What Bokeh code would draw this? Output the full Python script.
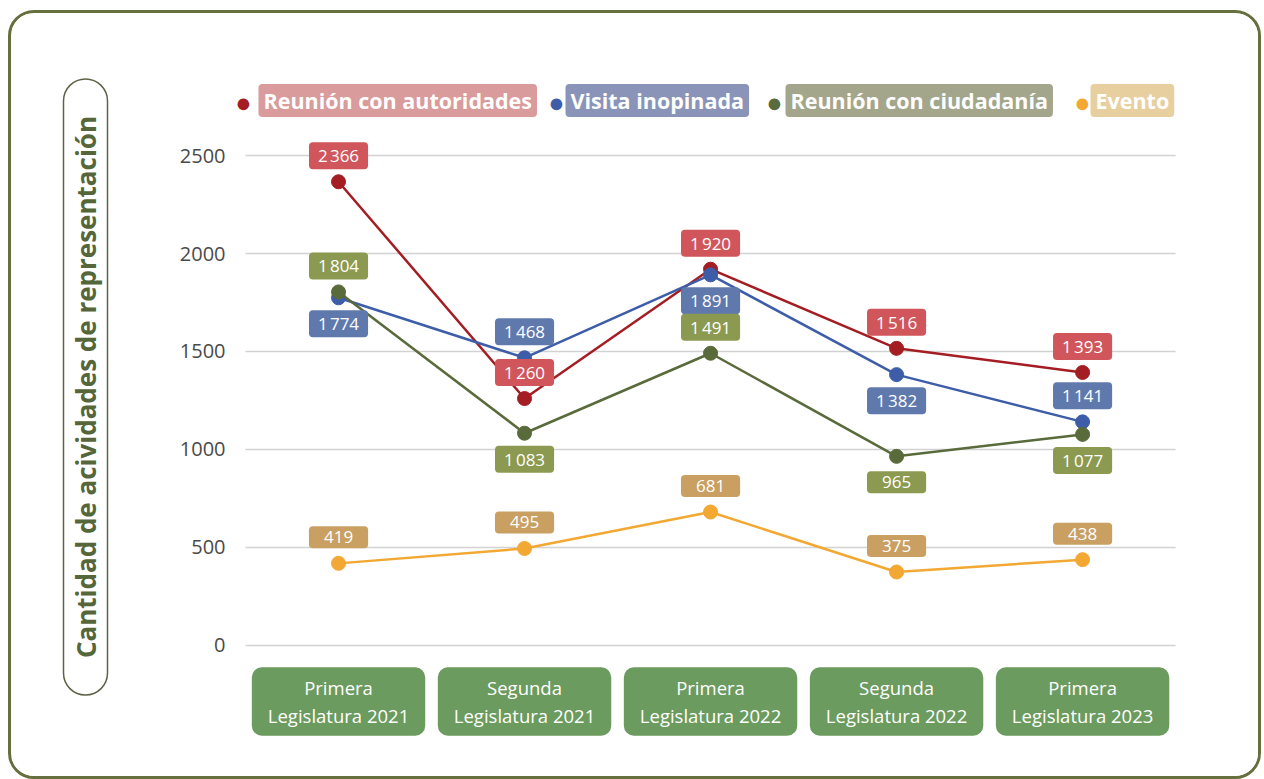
from bokeh.plotting import figure
from bokeh.models import Range1d, FixedTicker, Label
from bokeh.core.properties import value
from bokeh.embed import file_html
from bokeh.resources import INLINE

# ---------------- data ----------------
categories = [
    "Primera Legislatura 2021",
    "Segunda Legislatura 2021",
    "Primera Legislatura 2022",
    "Segunda Legislatura 2022",
    "Primera Legislatura 2023",
]
category_labels = [
    "Primera\nLegislatura 2021",
    "Segunda\nLegislatura 2021",
    "Primera\nLegislatura 2022",
    "Segunda\nLegislatura 2022",
    "Primera\nLegislatura 2023",
]
series_names = ["Reunión con autoridades", "Visita inopinada", "Reunión con ciudadanía", "Evento"]
autoridades = [2366, 1260, 1920, 1516, 1393]
inopinada = [1774, 1468, 1891, 1382, 1141]
ciudadania = [1804, 1083, 1491, 965, 1077]
evento = [419, 495, 681, 375, 438]
y_ticks = [0, 500, 1000, 1500, 2000, 2500]
y_title = "Cantidad de acividades de representación"

# ---------------- styles ----------------
FONT = "Open Sans"
line_colors = ["#a31d23", "#3d5da8", "#596a3b", "#f2a832"]
label_colors = ["#d0565b", "#6079ad", "#8b9a50", "#c9a062"]
legend_colors = ["#d99b9c", "#8a94b9", "#a3a68b", "#e7cfa0"]
label_side = [
    ["up", "up", "up", "up", "up"],
    ["down", "up", "down", "down", "up"],
    ["up", "down", "up", "down", "down"],
    ["up", "up", "up", "up", "up"],
]
OFFSET = 26
CAT_BOX_Y = -286

series = [autoridades, inopinada, ciudadania, evento]
xs = list(range(len(categories)))


def fmt(v):
    return f"{v:,}".replace(",", "\u202f")


p = figure(
    width=1253, height=769,
    x_range=Range1d(-1.5, 4.978), y_range=Range1d(-699, 3224.5),
    output_backend="svg", toolbar_location=None,
    min_border_left=48, min_border_right=0, min_border_top=0, min_border_bottom=0,
)
p.styles = {
    "border": "3px solid #66703f", "border-radius": "26px", "overflow": "hidden",
    "margin-left": "8px", "margin-top": "10px",
}
p.outline_line_color = None
p.xaxis.visible = False
p.xgrid.grid_line_color = None
p.ygrid.grid_line_color = None

# y axis drawn just left of the gridlines
p.yaxis.ticker = FixedTicker(ticks=y_ticks)
p.yaxis.fixed_location = -0.5 - 20 / 186
p.yaxis.axis_line_color = None
p.yaxis.major_tick_line_color = None
p.yaxis.minor_tick_line_color = None
p.yaxis.major_tick_out = 0
p.yaxis.major_tick_in = 0
p.yaxis.major_label_standoff = 0
p.yaxis.major_label_text_font = FONT
p.yaxis.major_label_text_font_size = "20px"
p.yaxis.major_label_text_color = "#4a4a4a"

# horizontal gridlines spanning the category slots
p.segment(x0=[xs[0] - 0.5] * len(y_ticks), x1=[xs[-1] + 0.5] * len(y_ticks),
          y0=y_ticks, y1=y_ticks, line_color="#d2d2d2", line_width=1.5)

# lines and points
for vals, col in zip(series, line_colors):
    p.line(xs, vals, line_color=col, line_width=2.5)
    p.scatter(xs, vals, size=14, fill_color=col, line_color=col)

# data labels (boxes of equal size)
for vals, col, sides in zip(series, label_colors, label_side):
    for x, v, s in zip(xs, vals, sides):
        pad = (9, 2) if v >= 1000 else (15, 5)
        p.text(
            x=[x], y=[v], text=[fmt(v)], y_offset=[-OFFSET if s == "up" else OFFSET],
            text_align="center", text_baseline="middle", text_color="white",
            text_font=value(FONT), text_font_size="17px",
            background_fill_color=col, padding=pad, border_radius=4,
        )

# category boxes (x axis)
p.text(
    x=xs, y=[CAT_BOX_Y] * len(xs), text=category_labels,
    text_align="center", text_baseline="middle", text_color="white",
    text_font=value(FONT), text_font_size="18.5px", text_line_height=1.1,
    background_fill_color="#6b9b5e", padding=(16, 8), border_radius=10,
)

# legend
legend_dot_x = [229, 542, 760, 1068]
legend_text_x = [244, 551, 771, 1076]
for name, dcol, bcol, dx, tx in zip(series_names, line_colors, legend_colors, legend_dot_x, legend_text_x):
    p.add_layout(Label(
        x=dx, y=85, x_units="canvas", y_units="canvas", text="●",
        text_align="center", text_baseline="middle", text_color=dcol,
        text_font=FONT, text_font_size="27px",
    ))
    p.add_layout(Label(
        x=tx, y=84, x_units="canvas", y_units="canvas", text=name,
        text_align="left", text_baseline="middle", text_color="white",
        text_font=FONT, text_font_size="21.5px", text_font_style="bold",
        background_fill_color=bcol, padding=(5, 2), border_radius=4,
    ))

# y title in a rounded outline box
p.add_layout(Label(
    x=71, y=370.5, x_units="canvas", y_units="canvas", text=y_title,
    angle=90, angle_units="deg",
    text_align="center", text_baseline="middle", text_color="#55663a",
    text_font=FONT, text_font_size="26px", text_font_style="bold",
    background_fill_color="white", border_line_color="#5e6347", border_line_width=1.5,
    padding=(37, 4), border_radius=22,
))

open("out.html", "w").write(file_html(p, INLINE))
